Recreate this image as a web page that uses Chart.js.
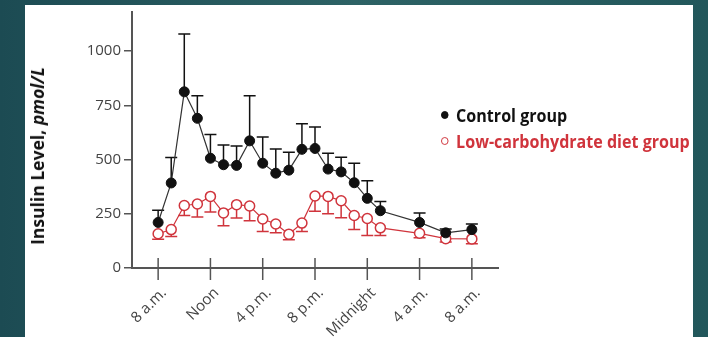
<!DOCTYPE html>
<html>
<head>
<meta charset="utf-8">
<script src="https://cdn.jsdelivr.net/npm/chart.js@4.4.1/dist/chart.umd.min.js"></script>
<style>
  html, body { margin: 0; padding: 0; }
  body {
    width: 708px; height: 337px; overflow: hidden; position: relative;
    background: linear-gradient(90deg, #1c4b53 0%, #2d6265 50%, #22575b 100%);
  }
  #panel { position: absolute; left: 25px; top: 5px; width: 668px; height: 332px; background: #fff; }
  #myChart { position: absolute; left: 0; top: 0; }
  #ytitle {
    position: absolute; left: 37px; top: 156px;
    transform: translate(-50%, -50%) rotate(-90deg);
    font: bold 17.5px "Open Sans", sans-serif; color: #111; white-space: nowrap;
  }
  #legend { position: absolute; left: 441px; top: 102px; font-family: "Open Sans", sans-serif; font-weight: bold; }
  .item { display: flex; align-items: center; height: 26px; white-space: nowrap; font-size: 17px; transform-origin: left center; transform: scaleX(0.945); }
  .mark { width: 8px; height: 8px; border-radius: 50%; box-sizing: border-box; margin-right: 8px; }
</style>
</head>
<body>
<div id="panel"></div>
<canvas id="myChart" width="708" height="337"></canvas>
<div id="ytitle">Insulin Level, <i>pmol/L</i></div>
<div id="legend"></div>
<script>
// heures depuis 8 h du matin
const hours = [0, 1, 2, 3, 4, 5, 6, 7, 8, 9, 10, 11, 12, 13, 14, 15, 16, 17, 20, 22, 24];
const controlMean = [210, 392, 812, 690, 506, 476, 473, 586, 483, 437, 451, 547, 551, 456, 443, 393, 321, 264, 210, 162, 177];
const controlUpper = [266, 509, 1079, 794, 615, 567, 562, 794, 604, 549, 533, 665, 650, 529, 510, 483, 402, 306, 253, 180, 203];
const lowCarbMean = [158, 177, 288, 295, 330, 254, 292, 286, 226, 203, 156, 207, 332, 330, 310, 242, 228, 185, 160, 135, 134];
const lowCarbLower = [132, 145, 242, 235, 258, 195, 230, 218, 168, 163, 130, 168, 262, 250, 232, 178, 150, 150, 140, 120, 112];

const tickHours = [0, 4, 8, 12, 16, 20, 24];
const tickLabels = ["8 a.m.", "Noon", "4 p.m.", "8 p.m.", "Midnight", "4 a.m.", "8 a.m."];
const yTicks = [0, 250, 500, 750, 1000];

const red = "#d0343c";

// barres d'erreur (SE) dessinées avec les échelles du graphique
const errorBars = {
  id: "errorBars",
  beforeDatasetsDraw(chart) {
    const ctx = chart.ctx;
    const yScale = chart.scales.y;
    chart.data.datasets.forEach((ds, i) => {
      const meta = chart.getDatasetMeta(i);
      ctx.save();
      ctx.strokeStyle = ds.errColor;
      ctx.lineWidth = 1.5;
      meta.data.forEach((pt, j) => {
        const yEnd = yScale.getPixelForValue(ds.errBound[j]);
        ctx.beginPath();
        ctx.moveTo(pt.x, pt.y);
        ctx.lineTo(pt.x, yEnd);
        ctx.moveTo(pt.x - 6, yEnd);
        ctx.lineTo(pt.x + 6, yEnd);
        ctx.stroke();
      });
      ctx.restore();
    });
  },
  afterDraw(chart) {
    // ticks qui traversent l'axe x
    const ctx = chart.ctx;
    const xScale = chart.scales.x;
    const y0 = chart.scales.y.getPixelForValue(0);
    ctx.save();
    ctx.strokeStyle = "#555";
    ctx.lineWidth = 1.5;
    tickHours.forEach((h) => {
      const x = xScale.getPixelForValue(h);
      ctx.beginPath();
      ctx.moveTo(x, y0 - 10);
      ctx.lineTo(x, y0 + 12);
      ctx.stroke();
    });
    ctx.restore();
  },
};

const datasets = [
  {
    label: "Control group",
    data: hours.map((h, i) => ({ x: h, y: controlMean[i] })),
    errBound: controlUpper,
    errColor: "#111",
    borderColor: "#333",
    borderWidth: 1.2,
    pointBackgroundColor: "#111",
    pointBorderColor: "#111",
    pointRadius: 5,
    pointBorderWidth: 1,
  },
  {
    label: "Low-carbohydrate diet group",
    data: hours.map((h, i) => ({ x: h, y: lowCarbMean[i] })),
    errBound: lowCarbLower,
    errColor: red,
    borderColor: red,
    borderWidth: 1.2,
    pointBackgroundColor: "#fff",
    pointBorderColor: red,
    pointRadius: 5,
    pointBorderWidth: 1.5,
  },
];

const chartParams = {
  type: "line",
  data: { datasets: datasets },
  options: {
    responsive: false,
    animation: false,
    devicePixelRatio: 1,
    layout: { padding: { left: 0, top: 10, right: 210, bottom: 0 } },
    plugins: { legend: { display: false }, tooltip: { enabled: false } },
    scales: {
      x: {
        type: "linear",
        min: -2,
        max: 26,
        afterBuildTicks: (scale) => {
          scale.ticks = tickHours.map((v) => ({ value: v }));
        },
        afterFit: (scale) => {
          scale.height = 337 - 268;
        },
        grid: { display: true, drawOnChartArea: false, color: "rgba(0,0,0,0)", tickLength: 12 },
        border: { display: true, color: "#555", width: 2 },
        ticks: {
          autoSkip: false,
          maxRotation: 45,
          minRotation: 45,
          padding: 4,
          labelOffset: 6,
          color: "#444",
          font: { family: "Open Sans", size: 15 },
          callback: (v) => tickLabels[tickHours.indexOf(v)],
        },
      },
      y: {
        min: 0,
        max: 1180,
        afterBuildTicks: (scale) => {
          scale.ticks = yTicks.map((v) => ({ value: v }));
        },
        afterFit: (scale) => {
          scale.width = 132;
        },
        grid: { drawOnChartArea: false, color: "#555", lineWidth: 1.5, tickLength: 8 },
        border: { display: true, color: "#555", width: 2 },
        ticks: {
          padding: 3,
          color: "#444",
          font: { family: "Open Sans", size: 15 },
          callback: (v) => String(v),
        },
      },
    },
  },
  plugins: [errorBars],
};

const ctx = document.getElementById("myChart").getContext("2d");
const myChart = new Chart(ctx, chartParams);

// légende en HTML
const legend = document.getElementById("legend");
datasets.forEach((ds) => {
  const item = document.createElement("div");
  item.className = "item";
  item.style.color = ds.errColor === red ? red : "#111";
  const mark = document.createElement("span");
  mark.className = "mark";
  mark.style.background = ds.pointBackgroundColor;
  mark.style.border = "1.5px solid " + ds.pointBorderColor;
  item.appendChild(mark);
  item.appendChild(document.createTextNode(ds.label));
  legend.appendChild(item);
});
</script>
</body>
</html>
